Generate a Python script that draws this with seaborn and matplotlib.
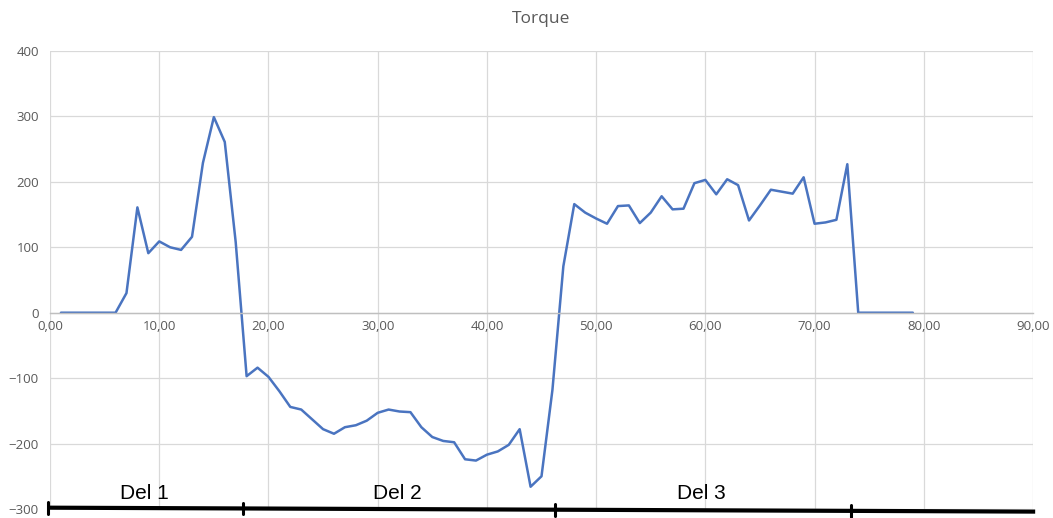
import numpy as np
import pandas as pd
import matplotlib.pyplot as plt
import seaborn as sns

# ── Data ──────────────────────────────────────────────────────────────────
time = list(range(1, 80))
torque = [0, 0, 0, 0, 0, 0, 30, 161, 91, 109,
          100, 96, 116, 229, 299, 261, 108, -97, -84, -98,
          -120, -144, -148, -163, -178, -185, -175, -172, -165, -153,
          -148, -151, -152, -175, -190, -196, -198, -224, -226, -217,
          -212, -202, -178, -266, -250, -118, 71, 166, 153, 144,
          136, 163, 164, 137, 153, 178, 158, 159, 198, 203,
          181, 204, 195, 141, 164, 188, 185, 182, 207, 136,
          138, 142, 227, 0, 0, 0, 0, 0, 0]
x_ticks = list(range(0, 91, 10))
x_tick_labels = [f"{t},00" for t in x_ticks]
y_ticks = list(range(-300, 401, 100))

# phase markers drawn by hand along the bottom
del_bounds = [-0.2, 17.7, 46.2, 73.3, 90.2]
del_ticks = [-0.2, 17.7, 46.2, 73.3]
del_labels = ["Del 1", "Del 2", "Del 3"]
del_label_x = [8.6, 31.8, 59.6]

df = pd.DataFrame({"time": time, "torque": torque})

sns.set_theme(style="white")
plt.rcParams['font.family'] = ['Open Sans', 'DejaVu Sans']

fig, ax = plt.subplots(figsize=(10.53, 5.18), dpi=100)
fig.subplots_adjust(left=0.0475, right=0.981, top=0.9015, bottom=0.0174)

sns.lineplot(data=df, x="time", y="torque", color="#4a74c0", linewidth=1.8, ax=ax)

ax.set_xlim(0, 90)
ax.set_ylim(-300, 400)
ax.set_xticks(x_ticks)
ax.set_xticklabels(x_tick_labels)
ax.set_yticks(y_ticks)
ax.grid(True, color="#d9d9d9", linewidth=0.9)
ax.set_axisbelow(True)

for s in ["top", "right", "left"]:
    ax.spines[s].set_visible(False)
ax.spines["bottom"].set_position(("data", 0))
ax.spines["bottom"].set_color("#bfbfbf")
ax.spines["bottom"].set_linewidth(1.0)
ax.tick_params(axis="both", length=0, labelsize=9.5, colors="#595959")
ax.tick_params(axis="x", pad=5)
ax.tick_params(axis="y", pad=8)
ax.set_xlabel("")
ax.set_ylabel("")
ax.set_title("Torque", fontsize=12.5, color="#595959", pad=20)

# ── hand-drawn phase bar ──────────────────────────────────────────────────
ax.plot([del_bounds[0], del_bounds[-1]], [-298, -304], color="black",
        linewidth=3, clip_on=False, solid_capstyle="butt")
for xt in del_ticks:
    yb = -298 - 6 * (xt - del_bounds[0]) / (del_bounds[-1] - del_bounds[0])
    ax.plot([xt, xt], [yb - 9, yb + 9], color="black", linewidth=2.2, clip_on=False)
for lx, lab in zip(del_label_x, del_labels):
    ax.text(lx, -277, lab, ha="center", va="center", fontsize=15,
            family=["Liberation Sans", "DejaVu Sans"], color="black")

plt.savefig("out.png", dpi=100)
